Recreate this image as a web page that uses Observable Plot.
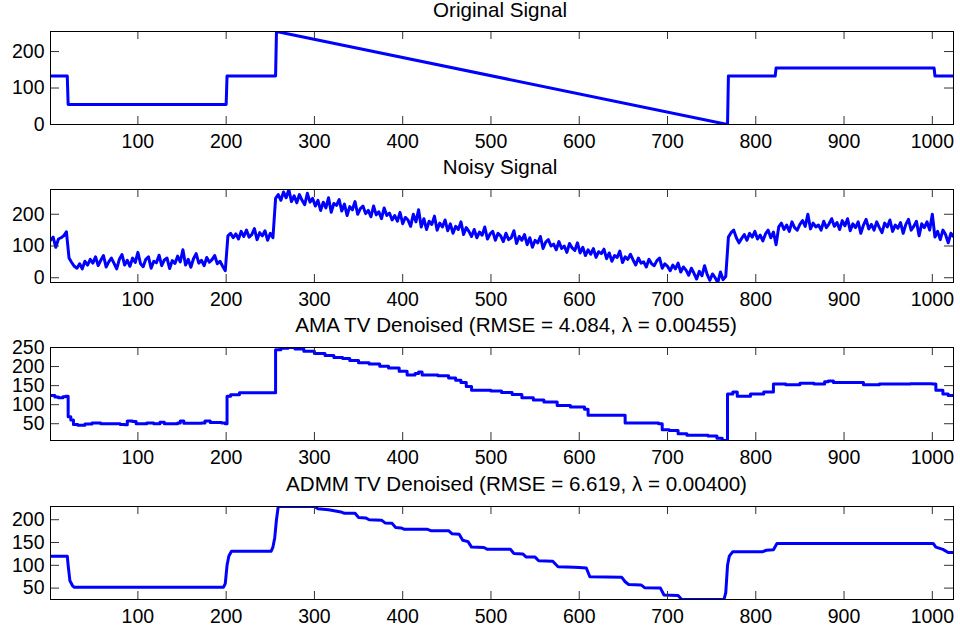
<!DOCTYPE html>
<html><head><meta charset="utf-8">
<script src="https://cdn.jsdelivr.net/npm/d3@7"></script>
<script src="https://cdn.jsdelivr.net/npm/@observablehq/plot@0.6"></script>
<style>
body{margin:0;background:#fff;}
#chart{position:relative;width:960px;height:634px;overflow:hidden;background:#fff;font-family:'Liberation Sans',Arial,Helvetica,sans-serif;}
.title{position:absolute;font-size:20.6px;color:#000;white-space:nowrap;transform:translateX(-50%);line-height:1;}
.panel{position:absolute;left:0;}
</style></head><body><div id="chart"></div><script>
// ---- data ----
const xTicks = [100,200,300,400,500,600,700,800,900,1000];
const titles = ["Original Signal", "Noisy Signal", "AMA TV Denoised (RMSE = 4.084, λ = 0.00455)", "ADMM TV Denoised (RMSE = 6.619, λ = 0.00400)"];

const origX = [1,20,21,200,201,256,257,768,769,822,823,1002,1003,1024];
const origY = [133,133,55,55,133,133,255,0,133,133,155,155,133,133];
const origYTicks = [0,100,200];

// noisy samples, every 3rd index starting at 1
const noisyY = [
118,128,96,122,126,132,145,62,48,36,
30,44,28,52,40,58,46,66,38,55,
70,34,50,62,45,28,58,73,40,55,
36,62,48,80,44,35,58,66,30,52,
47,71,38,56,62,29,54,45,68,50,
88,40,58,33,60,76,46,55,38,64,
49,57,70,44,52,36,22,132,140,126,
138,122,146,130,150,128,136,155,120,142,
132,148,118,140,126,250,262,244,270,252,
278,240,258,236,262,244,230,266,238,250,
226,244,212,238,220,252,206,234,228,246,
210,232,196,224,214,240,200,218,226,202,
212,192,226,198,208,186,220,196,204,182,
196,178,206,170,190,182,162,200,176,214,
160,186,152,178,168,194,150,172,160,182,
148,170,140,162,152,176,136,158,146,130,
152,126,144,134,160,122,138,146,118,140,
132,114,140,120,126,148,108,130,118,136,
104,126,96,118,110,130,92,112,120,100,
106,88,114,92,100,80,108,94,86,110,
78,96,70,88,74,92,64,82,76,90,
60,78,52,70,64,84,48,66,58,74,
56,40,62,46,50,34,58,44,38,54,
62,30,44,36,22,40,28,46,18,34,
24,8,30,14,-4,20,6,38,10,-8,
12,0,-15,18,-6,4,128,142,150,126,
110,124,136,118,140,128,146,122,134,116,
138,150,126,144,104,160,172,152,166,146,
176,158,150,168,180,162,200,154,172,160,
166,150,178,158,170,186,162,174,152,180,
164,186,148,170,158,176,140,166,184,154,
168,150,176,158,142,172,160,182,146,166,
156,174,140,168,184,150,162,178,132,170,
158,176,150,200,128,146,120,150,136,110,
140,130];
const noisyX = noisyY.map((_, i) => 1 + 3 * i);
const noisyYTicks = [0,100,200];

const amaX = [1,6,10,15,18,21,24,27,32,40,48,58,80,85,88,94,98,110,118,125,130,145,148,152,172,176,182,195,199,201,205,215,256,262,270,278,288,300,312,322,332,340,350,362,374,384,396,405,414,418,422,440,452,460,466,472,478,490,500,512,524,535,548,560,575,590,606,610,648,652,690,694,702,712,722,746,756,762,768,774,779,794,809,820,834,850,866,878,882,888,922,940,975,1000,1004,1012,1018,1024];
const amaY = [124,120,118,121,122,68,60,48,46,49,52,50,48,47,57,56,50,52,50,54,50,52,57,51,52,57,53,52,50,122,126,131,244,248,250,246,240,234,229,224,221,216,210,207,201,196,188,178,182,186,178,176,170,164,158,148,138,138,136,132,127,118,112,107,98,94,88,72,72,52,50,34,32,24,20,18,12,6,128,133,122,128,133,154,152,156,154,160,162,158,152,154,155,154,138,128,124,124];
const amaYTicks = [50,100,150,200,250];

const admmX = [1,20,21,23,26,28,197,199,201,203,206,251,253,255,257,259,300,304,316,330,334,346,350,358,362,376,380,388,392,398,402,428,432,452,456,464,468,474,478,492,496,522,526,536,540,550,554,570,576,594,600,608,612,648,652,656,670,674,692,696,712,716,764,766,768,770,774,808,812,820,824,1001,1004,1012,1018,1024];
const admmY = [120,120,100,66,55,52,52,60,100,120,131,131,140,160,200,229,229,224,222,217,214,214,205,204,200,199,193,192,183,182,179,179,176,176,169,168,155,152,140,139,135,135,126,125,118,118,110,109,97,96,95,94,75,74,64,58,57,51,50,35,34,25,25,40,100,120,130,130,133,134,148,148,140,135,128,128];
const admmYTicks = [50,100,150,200];

// ---- layout ----
const W = 960, ML = 50, MR = 7, MT = 1, MB = 34, FH = 93;
const frameTops = [31, 189, 347, 506];
const titleCenters = [500, 500, 516, 516.5];

const panels = [
  {x: origX, y: origY, ticks: origYTicks, curve: "linear"},
  {x: noisyX, y: noisyY, ticks: noisyYTicks, curve: "linear"},
  {x: amaX, y: amaY, ticks: amaYTicks, curve: "step-after"},
  {x: admmX, y: admmY, ticks: admmYTicks, curve: "linear"}
];

const chart = document.getElementById("chart");
panels.forEach((p, i) => {
  const data = p.x.map((x, j) => ({x, y: p.y[j]}));
  const yDom = d3.extent(p.y);
  const plot = Plot.plot({
    width: W, height: MT + FH + MB,
    marginLeft: ML, marginRight: MR, marginTop: MT, marginBottom: MB,
    style: {fontFamily: "'Liberation Sans', Arial, Helvetica, sans-serif", fontSize: "19.5px", color: "#000", background: "transparent", overflow: "visible"},
    x: {domain: [1, 1024], label: null},
    y: {domain: yDom, label: null},
    marks: [
      Plot.line(data, {x: "x", y: "y", stroke: "#0000ff", strokeWidth: 3, curve: p.curve, clip: true}),
      Plot.tickX(xTicks, {x: d => d, stroke: "#333", insetTop: FH - 8}),
      Plot.tickX(xTicks, {x: d => d, stroke: "#333", insetBottom: FH - 8}),
      Plot.tickY(p.ticks, {y: d => d, stroke: "#333", insetRight: W - ML - MR - 9}),
      Plot.tickY(p.ticks, {y: d => d, stroke: "#333", insetLeft: W - ML - MR - 9}),
      Plot.frame({stroke: "#000", strokeWidth: 1}),
      Plot.axisX(xTicks, {tickSize: 0, tickPadding: 9.5, fontSize: 19.5, label: null, tickFormat: d3.format("d")}),
      Plot.axisY(p.ticks, {tickSize: 0, tickPadding: 6, fontSize: 19.5, label: null, tickFormat: d3.format("d")})
    ]
  });
  const wrap = document.createElement("div");
  wrap.className = "panel";
  wrap.style.top = (frameTops[i] - MT) + "px";
  wrap.appendChild(plot);
  chart.appendChild(wrap);

  const t = document.createElement("div");
  t.className = "title";
  t.textContent = titles[i];
  t.style.left = titleCenters[i] + "px";
  t.style.top = Math.max(0, frameTops[i] - 14.8 - 17.4) + "px";
  chart.appendChild(t);
});
</script></body></html>
